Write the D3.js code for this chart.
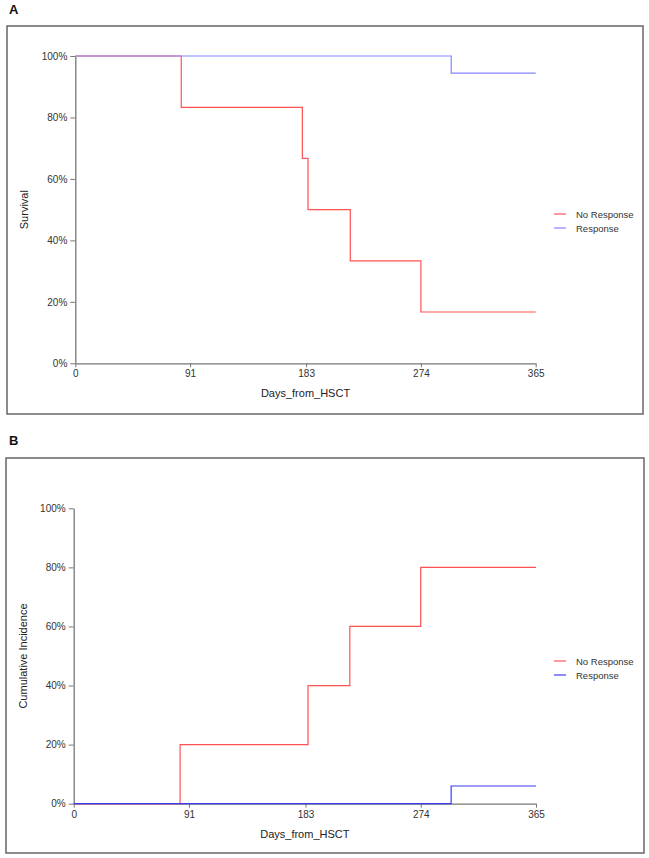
<!DOCTYPE html>
<html><head><meta charset="utf-8">
<script src="https://cdn.jsdelivr.net/npm/d3@7"></script>
<style>
html,body{margin:0;padding:0;background:#fff;}
svg{display:block;font-family:"Liberation Sans",Arial,sans-serif;}
</style></head>
<body>
<svg id="c" width="649" height="858"></svg>
<script>
// ---- data ----
const xTicks = [0, 91, 183, 274, 365];
const yTicks = [0, 0.2, 0.4, 0.6, 0.8, 1.0];
const seriesNames = ["No Response", "Response"];

// Panel A: survival
const survNoRespDays = [0, 84, 180, 184.5, 218, 274, 365];
const survNoRespVals = [1.0, 0.833, 0.667, 0.5, 0.333, 0.167, 0.167];
const survRespDays = [0, 298, 365];
const survRespVals = [1.0, 0.944, 0.944];

// Panel B: cumulative incidence
const ciNoRespDays = [0, 84, 185, 218, 274, 365];
const ciNoRespVals = [0, 0.2, 0.4, 0.6, 0.8, 0.8];
const ciRespDays = [0, 298, 365];
const ciRespVals = [0, 0.06, 0.06];

const svg = d3.select("#c");

function panel(opt) {
  const g = svg.append("g");
  // panel letter
  g.append("text").attr("x", opt.letterX).attr("y", opt.letterY)
    .attr("font-size", 13).attr("font-weight", "bold").attr("fill", "#111").text(opt.letter);
  // frame
  g.append("rect").attr("x", opt.frame[0]).attr("y", opt.frame[1])
    .attr("width", opt.frame[2]).attr("height", opt.frame[3])
    .attr("fill", "none").attr("stroke", "#666").attr("stroke-width", 1.5);

  const x = d3.scaleLinear().domain([0, 365]).range([opt.x0, opt.x1]);
  const y = d3.scaleLinear().domain([0, 1]).range([opt.y0, opt.y1]);

  const xa = g.append("g").attr("transform", `translate(0,${opt.y0})`)
    .call(d3.axisBottom(x).tickValues(xTicks).tickSize(4).tickPadding(3).tickSizeOuter(0));
  const ya = g.append("g").attr("transform", `translate(${opt.x0},0)`)
    .call(d3.axisLeft(y).tickValues(yTicks).tickFormat(d3.format(".0%")).tickSize(5).tickPadding(3).tickSizeOuter(0));
  [xa, ya].forEach(a => {
    a.select(".domain").attr("stroke", "#777").attr("stroke-width", 1.3);
    a.selectAll(".tick line").attr("stroke", "#777");
    a.selectAll(".tick text").attr("fill", "#333").attr("font-size", 10)
      .attr("font-family", "'Liberation Sans', Arial, sans-serif");
  });

  g.append("text").attr("x", (opt.x0 + opt.x1) / 2).attr("y", opt.y0 + 34)
    .attr("text-anchor", "middle").attr("font-size", 11).attr("fill", "#222").text("Days_from_HSCT");
  g.append("text").attr("transform", `translate(${opt.yLabX},${(opt.y0 + opt.y1) / 2}) rotate(-90)`)
    .attr("text-anchor", "middle").attr("font-size", 11).attr("fill", "#222").text(opt.yLabel);

  const line = d3.line().x(d => x(d[0])).y(d => y(d[1])).curve(d3.curveStepAfter);
  opt.series.forEach((s, i) => {
    const pts = s.days.map((d, j) => [d, s.vals[j]]);
    g.append("path").attr("d", line(pts)).attr("fill", "none")
      .attr("stroke", s.color).attr("stroke-width", 1.2);
  });

  // legend
  seriesNames.forEach((n, i) => {
    const ly = opt.legY + i * 14;
    g.append("line").attr("x1", 554).attr("x2", 566).attr("y1", ly).attr("y2", ly)
      .attr("stroke", opt.series[i].color).attr("stroke-width", 1.2);
    g.append("text").attr("x", 576).attr("y", ly + 3.5).attr("font-size", 9.5)
      .attr("fill", "#333").text(n);
  });
}

panel({
  letter: "A", letterX: 9, letterY: 14,
  frame: [7, 26, 636, 388],
  x0: 75.3, x1: 535.7, y0: 363.3, y1: 56,
  yLabX: 28, yLabel: "Survival", legY: 214,
  series: [
    {days: survNoRespDays, vals: survNoRespVals, color: "#ff5252"},
    {days: survRespDays, vals: survRespVals, color: "#8585ff"}
  ]
});

panel({
  letter: "B", letterX: 9, letterY: 445,
  frame: [6, 458, 638, 395],
  x0: 73.7, x1: 536, y0: 803.7, y1: 508.3,
  yLabX: 27, yLabel: "Cumulative Incidence", legY: 661,
  series: [
    {days: ciNoRespDays, vals: ciNoRespVals, color: "#ff5252"},
    {days: ciRespDays, vals: ciRespVals, color: "#3c3cf0"}
  ]
});
</script>
</body></html>
